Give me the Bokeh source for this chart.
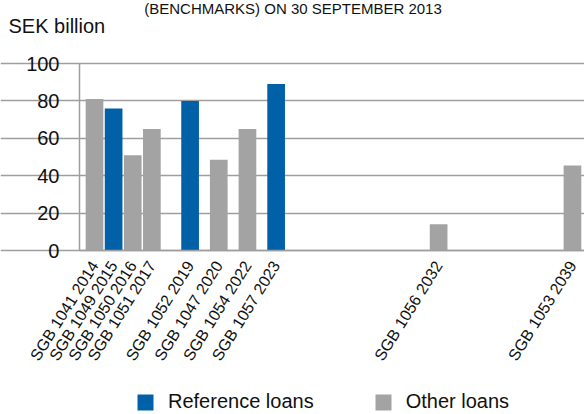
from bokeh.plotting import figure
from bokeh.models import (ColumnDataSource, Range1d, FixedTicker, CustomJSTickFormatter,
                          Label, Legend, LegendItem)
from bokeh.embed import file_html
from bokeh.resources import INLINE

# ---- data ----
bonds = ["SGB 1041 2014", "SGB 1049 2015", "SGB 1050 2016", "SGB 1051 2017",
         "SGB 1052 2019", "SGB 1047 2020", "SGB 1054 2022", "SGB 1057 2023",
         "SGB 1056 2032", "SGB 1053 2039"]
maturity = [2014, 2015, 2016, 2017, 2019, 2020.5, 2022, 2023.5, 2032, 2039]
outstanding = [81, 76, 51, 65, 80, 48.5, 65, 89, 14, 45.5]
is_reference = [False, True, False, False, True, False, False, True, False, False]
y_ticks = [0, 20, 40, 60, 80, 100]
series_names = ["Reference loans", "Other loans"]
title_text = "(BENCHMARKS) ON 30 SEPTEMBER 2013"
unit_text = "SEK billion"

BLUE = "#0060a8"
GRAY = "#a3a3a3"
GRID = "#9e9e9e"
TXT = "#111111"
FONT = "Liberation Sans"

# plot area: x axis line from X0 to X1, value axis 0..100
X0, X1 = 2013.215, 2039.63

ref_src = ColumnDataSource(dict(
    x=[m for m, r in zip(maturity, is_reference) if r],
    top=[v for v, r in zip(outstanding, is_reference) if r]))
oth_src = ColumnDataSource(dict(
    x=[m for m, r in zip(maturity, is_reference) if not r],
    top=[v for v, r in zip(outstanding, is_reference) if not r]))

# the frame covers the whole canvas; axes are drawn at fixed data locations
p = figure(width=584, height=414,
           x_range=Range1d(2009.083, X1), y_range=Range1d(-87.70, 133.69),
           output_backend="svg", toolbar_location=None, min_border=0)
p.title = None
p.outline_line_color = None
p.background_fill_color = "white"

r_ref = p.vbar(x="x", top="top", width=0.925, bottom=0, source=ref_src,
               fill_color=BLUE, line_color=None)
r_oth = p.vbar(x="x", top="top", width=0.925, bottom=0, source=oth_src,
               fill_color=GRAY, line_color=None)

# x axis
xa = p.xaxis[0]
xa.fixed_location = 0
xa.bounds = (X0, X1)
xa.ticker = FixedTicker(ticks=maturity)
xa.formatter = CustomJSTickFormatter(args=dict(xs=maturity, labels=bonds), code="""
    const i = xs.indexOf(tick);
    return i >= 0 ? labels[i] : "";
""")
xa.major_label_orientation = 1.0123
xa.major_label_text_font = FONT
xa.major_label_text_font_size = "16px"
xa.major_label_text_color = TXT
xa.major_label_standoff = 12
xa.major_tick_line_color = None
xa.major_tick_out = 0
xa.major_tick_in = 0
xa.minor_tick_line_color = None
xa.axis_line_color = GRID
xa.axis_line_width = 1.5

# y axis
ya = p.yaxis[0]
ya.fixed_location = X0
ya.bounds = (0, 100)
ya.ticker = FixedTicker(ticks=y_ticks)
ya.major_label_text_font = FONT
ya.major_label_text_font_size = "20px"
ya.major_label_text_color = TXT
ya.major_label_standoff = 20
ya.major_tick_line_color = None
ya.major_tick_out = 0
ya.major_tick_in = 0
ya.minor_tick_line_color = None
ya.axis_line_color = GRID
ya.axis_line_width = 1.5

p.xgrid.grid_line_color = None
p.ygrid.ticker = FixedTicker(ticks=y_ticks)
p.ygrid.bounds = (X0, X1)
p.ygrid.grid_line_color = GRID
p.ygrid.grid_line_width = 1.5

# texts (screen units: from the frame's bottom-left corner)
p.add_layout(Label(x=292.5, y=415, x_units="screen", y_units="screen",
                   text=title_text, text_align="center", text_baseline="top",
                   text_font=FONT, text_font_size="15px", text_color=TXT))
p.add_layout(Label(x=8, y=389, x_units="screen", y_units="screen",
                   text=unit_text, text_align="left", text_baseline="alphabetic",
                   text_font=FONT, text_font_size="20px", text_color=TXT))

legend = Legend(items=[LegendItem(label=series_names[0], renderers=[r_ref]),
                       LegendItem(label=series_names[1], renderers=[r_oth])],
                orientation="horizontal", location=(135, 1),
                glyph_width=20, glyph_height=20, label_standoff=13, spacing=59,
                padding=0, margin=0, border_line_color=None,
                background_fill_alpha=0,
                label_text_font=FONT, label_text_font_size="20px",
                label_text_color=TXT)
p.add_layout(legend, "center")

open("out.html", "w").write(file_html(p, INLINE))
